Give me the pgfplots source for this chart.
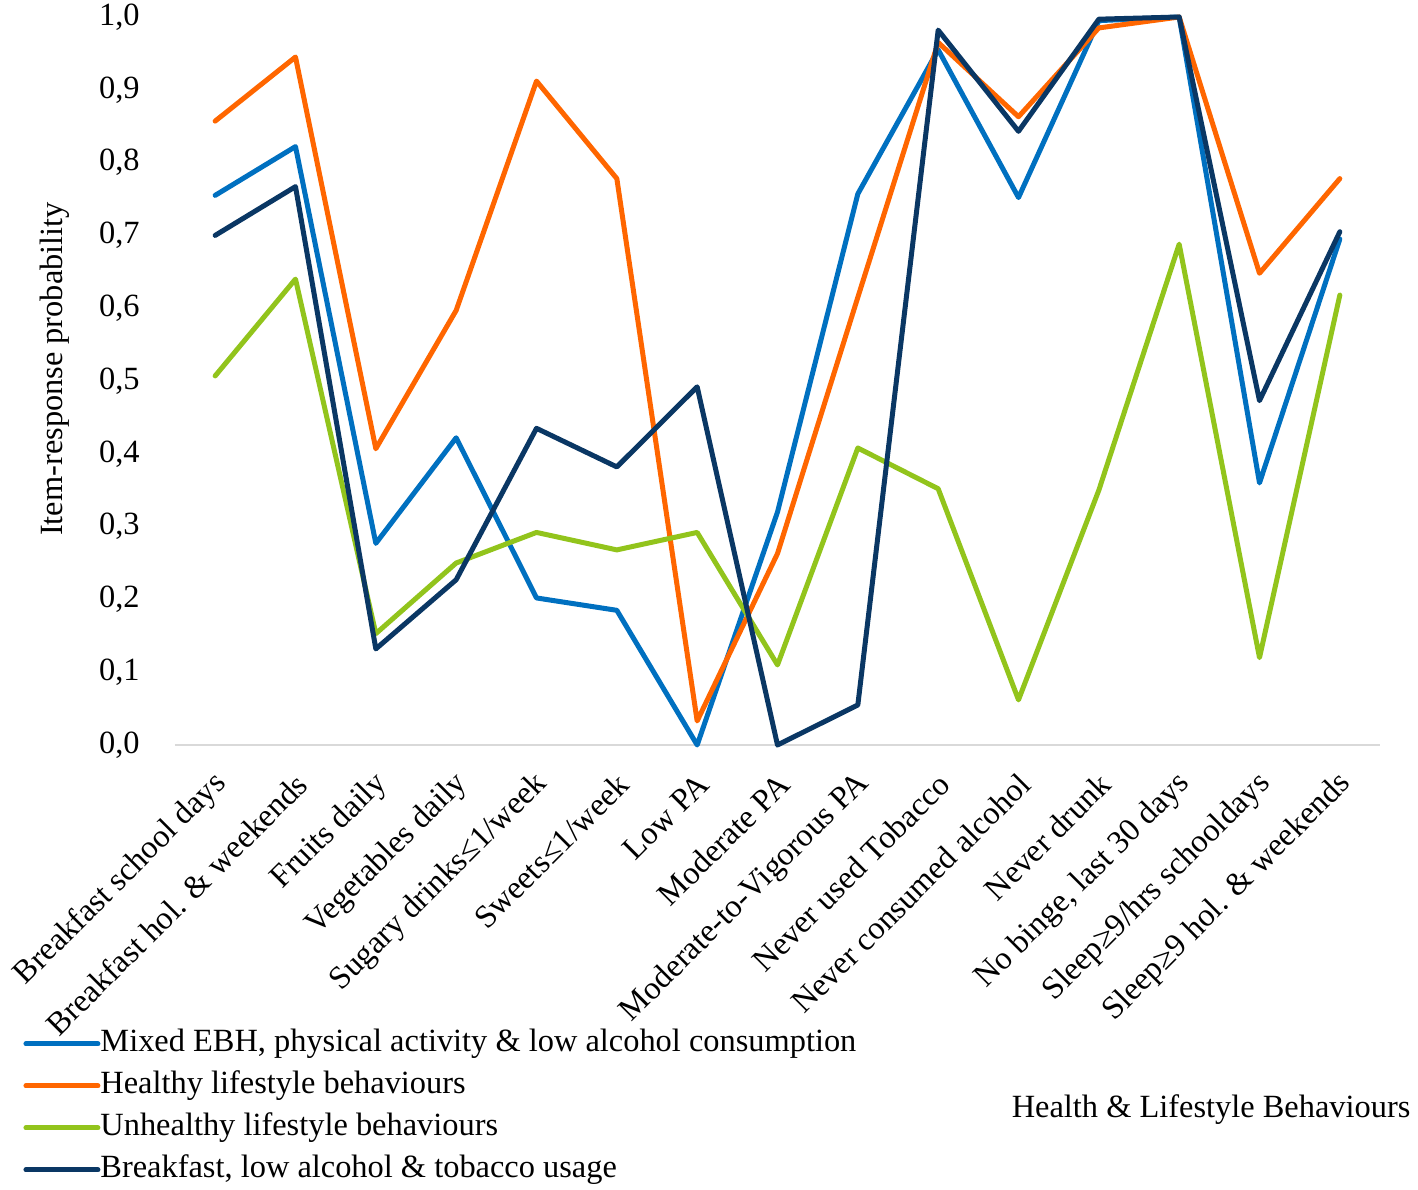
\documentclass[border=0pt]{standalone}
\usepackage{fontspec}
\setmainfont{Liberation Serif}
\usepackage{pgfplots}
\pgfplotsset{compat=1.18}
\definecolor{cblue}{RGB}{0,112,192}
\definecolor{corange}{RGB}{255,102,0}
\definecolor{cgreen}{RGB}{146,196,28}
\definecolor{cnavy}{RGB}{10,55,100}
\newcommand{\fs}{\fontsize{16.2}{19.5}\selectfont}
\begin{document}
\fs
\begin{tikzpicture}
\begin{axis}[
  at={(0,0)}, anchor=south west,
  scale only axis, width=602.5pt, height=364pt,
  xmin=-0.5, xmax=14.5, ymin=0, ymax=1,
  clip=false,
  axis x line*=bottom, axis y line*=left,
  x axis line style={draw=black!15, line width=1pt, -},
  y axis line style={draw=none},
  ytick={0,0.1,...,1.0},
  xtick={0,...,14},
  major tick length=0pt,
  xticklabels={Breakfast school days,Breakfast hol. \& weekends,Fruits daily,Vegetables daily,Sugary drinks≤1/week,Sweets≤1/week,Low PA,Moderate PA,Moderate-to-Vigorous PA,Never used Tobacco,Never consumed alcohol,Never drunk,{No binge, last 30 days},Sleep≥9/hrs schooldays,Sleep≥9 hol. \& weekends},
  xticklabel style={rotate=45, anchor=east, inner sep=0pt, yshift=-14.3pt, xshift=-9.7pt, font=\fs},
  yticklabel style={anchor=east, inner sep=0pt, xshift=-17.5pt, font=\fs},
  yticklabel={\pgfmathprintnumber[fixed,fixed zerofill,precision=1,use comma,assume math mode=true]{\tick}},
  ylabel={Item-response probability},
  ylabel style={at={(axis description cs:-0.0996,0.5165)}, anchor=center, rotate=0, font=\fs},
  xlabel={Health \& Lifestyle Behaviours},
  xlabel style={at={(axis description cs:0.8598,-0.5014)}, anchor=center, font=\fs},
  legend style={at={(axis description cs:-0.1261,-0.388)}, anchor=north west, draw=none, fill=none, inner sep=0pt, row sep=5pt,
    nodes={inner sep=0pt, text height=12pt, text depth=4pt, font=\fs}},
  legend cell align=left,
  legend image code/.code={\draw[#1, line width=2.5pt] (0pt,0pt) -- (36pt,0pt);},
  every axis plot/.append style={line width=2.5pt, line join=round, line cap=round},
]
\addplot[cblue] coordinates {(0,0.755) (1,0.822) (2,0.277) (3,0.422) (4,0.202) (5,0.185) (6,0.0) (7,0.32) (8,0.757) (9,0.955) (10,0.752) (11,0.995) (12,1.0) (13,0.36) (14,0.695)};
\addlegendentry{Mixed EBH, physical activity \& low alcohol consumption}
\addplot[corange] coordinates {(0,0.857) (1,0.945) (2,0.407) (3,0.597) (4,0.912) (5,0.778) (6,0.033) (7,0.263) (8,0.615) (9,0.965) (10,0.863) (11,0.985) (12,1.0) (13,0.648) (14,0.778)};
\addlegendentry{Healthy lifestyle behaviours}
\addplot[cgreen] coordinates {(0,0.507) (1,0.64) (2,0.153) (3,0.25) (4,0.292) (5,0.268) (6,0.292) (7,0.11) (8,0.408) (9,0.352) (10,0.062) (11,0.35) (12,0.688) (13,0.12) (14,0.618)};
\addlegendentry{Unhealthy lifestyle behaviours}
\addplot[cnavy] coordinates {(0,0.70) (1,0.767) (2,0.132) (3,0.227) (4,0.435) (5,0.382) (6,0.492) (7,0.0) (8,0.055) (9,0.982) (10,0.843) (11,0.997) (12,1.0) (13,0.473) (14,0.705)};
\addlegendentry{Breakfast, low alcohol \& tobacco usage}
\end{axis}
\pgfresetboundingbox
\path[use as bounding box] (-87.5pt,-222pt) rectangle (621.5pt,372.5pt);
\end{tikzpicture}
\end{document}
